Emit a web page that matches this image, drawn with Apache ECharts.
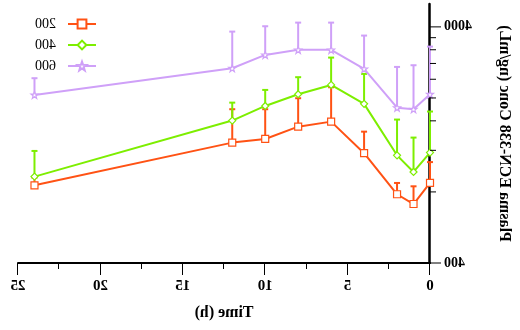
<!DOCTYPE html>
<html>
<head>
<meta charset="utf-8">
<script src="https://cdn.jsdelivr.net/npm/echarts@6/dist/echarts.min.js"></script>
<style>
  html, body { margin: 0; padding: 0; background: #fff; }
  /* the figure is shown mirrored left-to-right */
  #chart { width: 520px; height: 330px; transform: scaleX(-1); }
</style>
</head>
<body>
<div id="chart"></div>
<script>
// Sampling times (h)
const times = [0, 1, 2, 4, 6, 8, 10, 12, 24];

// Dose groups
const doses = ['200', '400', '600'];

// Mean plasma concentration (ng/mL) per dose group
const mean200 = [873, 711, 782, 1167, 1588, 1512, 1341, 1294, 853];
const mean400 = [1174, 972, 1143, 1888, 2271, 2074, 1850, 1604, 929];
const mean600 = [2074, 1792, 1820, 2655, 3197, 3197, 3044, 2673, 2060];

// Standard deviations (upper whiskers)
const sd200 = [197, 134, 91, 273, 632, 483, 451, 498, 67];
const sd400 = [578, 387, 477, 641, 694, 375, 313, 307, 264];
const sd600 = [1226, 960, 887, 1020, 973, 973, 981, 1147, 365];

// Axis ticks
const xTicks = [0, 5, 10, 15, 20, 25];
const yLabelTicks = [400, 4000];
const yMinorTicks = [800, 1200, 1600, 2000, 2400, 2800, 3200, 3600];

const colors = ['#FF5214', '#7DEE00', '#CFA0F8'];
const serif = '"Liberation Serif", "DejaVu Serif", serif';
const starPath = 'path://M0,-10 L2.35,-3.24 L9.51,-3.09 L3.8,1.24 L5.88,8.09 L0,4 L-5.88,8.09 L-3.8,1.24 L-9.51,-3.09 L-2.35,-3.24 Z';

const means = [mean200, mean400, mean600];
const sds = [sd200, sd400, sd600];
const symbols = ['rect', 'diamond', starPath];
const symbolSizes = [7, 7, 7];

function pairs(xs, ys) { return xs.map((x, i) => [x, ys[i]]); }

const series = [];

// y-axis tick marks on the log scale: long at labelled values, short between
series.push({
  type: 'custom',
  name: 'y ticks',
  z: 5,
  clip: false,
  silent: true,
  data: yLabelTicks.map(v => [0, v, 11]).concat(yMinorTicks.map(v => [0, v, 6])),
  renderItem: function (params, api) {
    const p = api.coord([api.value(0), api.value(1)]);
    const len = api.value(2);
    return {
      type: 'line',
      shape: { x1: p[0] - len, y1: p[1], x2: p[0], y2: p[1] },
      style: { stroke: '#000', lineWidth: 1 }
    };
  }
});

doses.forEach((d, k) => {
  // upper error whiskers with caps
  series.push({
    type: 'custom',
    name: d + ' sd',
    z: 2,
    clip: false,
    silent: true,
    data: times.map((t, i) => [t, means[k][i], means[k][i] + sds[k][i]]),
    renderItem: function (params, api) {
      const p0 = api.coord([api.value(0), api.value(1)]);
      const p1 = api.coord([api.value(0), api.value(2)]);
      const half = 3;
      const style = { stroke: colors[k], lineWidth: 2, fill: null };
      return {
        type: 'group',
        children: [
          { type: 'line', shape: { x1: p0[0], y1: p0[1], x2: p1[0], y2: p1[1] }, style: style },
          { type: 'line', shape: { x1: p1[0] - half, y1: p1[1], x2: p1[0] + half, y2: p1[1] }, style: style }
        ]
      };
    }
  });
  series.push({
    type: 'line',
    name: d,
    z: 3,
    data: pairs(times, means[k]),
    symbol: symbols[k],
    symbolSize: symbolSizes[k],
    showAllSymbol: true,
    lineStyle: { color: colors[k], width: 2 },
    itemStyle: { color: '#ffffff', borderColor: colors[k], borderWidth: 1.2 },
    emphasis: { disabled: true }
  });
});

const chart = echarts.init(document.getElementById('chart'), null, { renderer: 'canvas' });
chart.setOption({
  animation: false,
  backgroundColor: '#ffffff',
  grid: { left: 89, right: 18, top: 4, bottom: 67, containLabel: false },
  legend: {
    data: doses,
    orient: 'vertical',
    left: 418,
    top: 12,
    itemWidth: 28,
    itemHeight: 11,
    itemGap: 7,
    textStyle: { fontFamily: serif, fontSize: 14, color: '#000', padding: [0, 0, 0, 7] }
  },
  xAxis: {
    type: 'value',
    min: 0,
    max: 25,
    interval: 5,
    name: 'Time (h)',
    nameLocation: 'middle',
    nameGap: 42,
    nameTextStyle: { fontFamily: serif, fontSize: 16, fontWeight: 'bold', color: '#000' },
    axisLine: { show: true, lineStyle: { color: '#000', width: 2 } },
    axisTick: { show: true, length: 12, lineStyle: { color: '#000', width: 1 } },
    minorTick: { show: true, splitNumber: 2, length: 6, lineStyle: { color: '#000', width: 1 } },
    axisLabel: { fontFamily: serif, fontSize: 15, fontWeight: 'bold', color: '#000', margin: 16,
                 customValues: xTicks },
    splitLine: { show: false }
  },
  yAxis: {
    type: 'log',
    logBase: 10,
    min: 400,
    max: 5000,
    position: 'left',
    name: 'Plasma ECN-338 Conc (ng/mL)',
    nameLocation: 'middle',
    nameGap: 66,
    nameTextStyle: { fontFamily: serif, fontSize: 16, fontWeight: 'bold', color: '#000' },
    axisLine: { show: true, onZero: false, lineStyle: { color: '#000', width: 2.5 } },
    axisTick: { show: false },
    axisLabel: { fontFamily: serif, fontSize: 14, fontWeight: 'bold', color: '#000', margin: 14,
                 customValues: yLabelTicks, formatter: v => String(Math.round(v)) },
    splitLine: { show: false }
  },
  series: series
});
</script>
</body>
</html>
